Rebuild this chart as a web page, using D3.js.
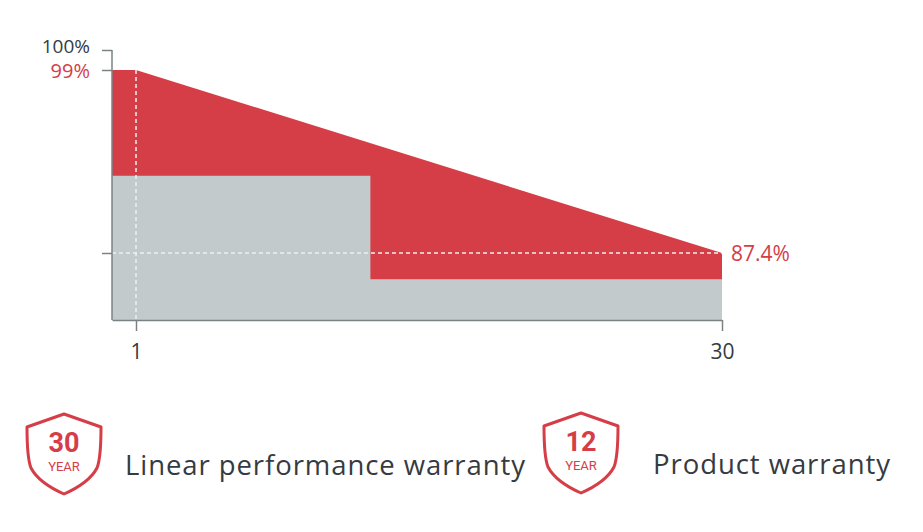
<!DOCTYPE html>
<html>
<head>
<meta charset="utf-8">
<script src="https://cdn.jsdelivr.net/npm/d3@7"></script>
<style>
  body { margin: 0; background: #fff; }
  svg { display: block; }
</style>
</head>
<body>
<div id="chart"></div>
<script>
// warranty data
const years = [0, 1, 30];
const linearValues = [99, 99, 87.4];
const stepYears = [0, 12.6, 12.6, 30];
const stepValues = [92.3, 92.3, 84.5, 84.5];
const yTicks = [100, 99, 87.4];
const xTicks = [1, 30];
const badges = [
    { years: "30", label: "Linear performance warranty" },
    { years: "12", label: "Product warranty" }
];

const width = 923, height = 532;
const red = "#d53d47", grey = "#c2cacb", axisGrey = "#7b8284", textDark = "#363b3f";
const font = "'Open Sans', sans-serif";

let svg = d3.select("#chart").append("svg")
    .attr("width", width).attr("height", height);

// the chart isn't drawn to scale, so use piecewise scales
let xScale = d3.scaleLinear().domain([0, 1, 30]).range([112, 136, 722]);
let yScale = d3.scaleLinear().domain([100, 99, 87.4, 80]).range([50, 70, 253, 320]);

let linearData = years.map((y, i) => ({ year: y, value: linearValues[i] }));
let stepData = stepYears.map((y, i) => ({ year: y, value: stepValues[i] }));

let area = d3.area()
    .x(d => xScale(d.year))
    .y0(yScale(80))
    .y1(d => yScale(d.value));

svg.append("path").datum(linearData)
    .attr("fill", red)
    .attr("d", area);

svg.append("path").datum(stepData)
    .attr("fill", grey)
    .attr("d", area);

// dashed guide lines
svg.append("line")
    .attr("x1", xScale(1)).attr("x2", xScale(1))
    .attr("y1", yScale(99)).attr("y2", yScale(80))
    .attr("stroke", "#eef0f0").attr("stroke-width", 1.5)
    .attr("stroke-dasharray", "4,3");
svg.append("line")
    .attr("x1", xScale(0)).attr("x2", xScale(30))
    .attr("y1", yScale(87.4)).attr("y2", yScale(87.4))
    .attr("stroke", "#eef0f0").attr("stroke-width", 1.5)
    .attr("stroke-dasharray", "4,3");

// axes
let yAxis = svg.append("g")
    .attr("transform", "translate(" + xScale(0) + ",0)")
    .call(d3.axisLeft(yScale).tickValues(yTicks).tickSize(10).tickSizeOuter(0).tickFormat(""));
yAxis.select(".domain").attr("d", "M0," + yScale(100) + "V" + yScale(80));

let xAxis = svg.append("g")
    .attr("transform", "translate(0," + yScale(80) + ")")
    .call(d3.axisBottom(xScale).tickValues(xTicks).tickSize(11).tickSizeOuter(0).tickPadding(13));

[yAxis, xAxis].forEach(ax => {
    ax.selectAll("path, line").attr("stroke", axisGrey).attr("stroke-width", 1.5);
});
xAxis.selectAll("text")
    .attr("fill", textDark)
    .style("font-family", font)
    .style("font-size", "21px");

// y labels
svg.append("text")
    .attr("x", 90).attr("y", yScale(100) - 4)
    .attr("text-anchor", "end").attr("dy", "0.35em")
    .attr("fill", textDark)
    .style("font-family", font).style("font-size", "19px")
    .text("100%");
svg.append("text")
    .attr("x", 90).attr("y", yScale(99) + 1)
    .attr("text-anchor", "end").attr("dy", "0.35em")
    .attr("fill", red)
    .style("font-family", font).style("font-size", "20px")
    .text("99%");
svg.append("text")
    .attr("x", xScale(30) + 9).attr("y", yScale(87.4) + 1)
    .attr("dy", "0.35em")
    .attr("fill", red)
    .style("font-family", font).style("font-size", "21px")
    .text("87.4%");

// legend badges
let shield = "M0,0 L37,13 Q37,44 33,54 Q25,69 0,80 Q-25,69 -33,54 Q-37,44 -37,13 Z";
let badgePos = [{ cx: 64, top: 414, tx: 125, w: 400 }, { cx: 581, top: 413, tx: 653, w: 237 }];

let legend = svg.selectAll(".badge").data(badges).join("g")
    .attr("class", "badge")
    .attr("transform", (d, i) => "translate(" + badgePos[i].cx + "," + badgePos[i].top + ")");

legend.append("path")
    .attr("d", shield)
    .attr("fill", "none").attr("stroke", red).attr("stroke-width", 3)
    .attr("stroke-linejoin", "round");
legend.append("text")
    .attr("y", 38).attr("text-anchor", "middle")
    .attr("fill", red)
    .style("font-family", "Roboto, sans-serif").style("font-weight", "bold").style("font-size", "27px")
    .text(d => d.years);
legend.append("text")
    .attr("y", 57).attr("text-anchor", "middle")
    .attr("fill", red)
    .style("font-family", "Roboto, sans-serif").style("font-size", "13px")
    .text("YEAR");

// Poppins-style labels are wide, stretch the spacing to the same width
legend.append("text")
    .attr("x", (d, i) => badgePos[i].tx - badgePos[i].cx)
    .attr("y", 61)
    .attr("fill", textDark)
    .attr("textLength", (d, i) => badgePos[i].w)
    .attr("lengthAdjust", "spacing")
    .style("font-family", font).style("font-size", "27.5px")
    .text(d => d.label);
</script>
</body>
</html>
